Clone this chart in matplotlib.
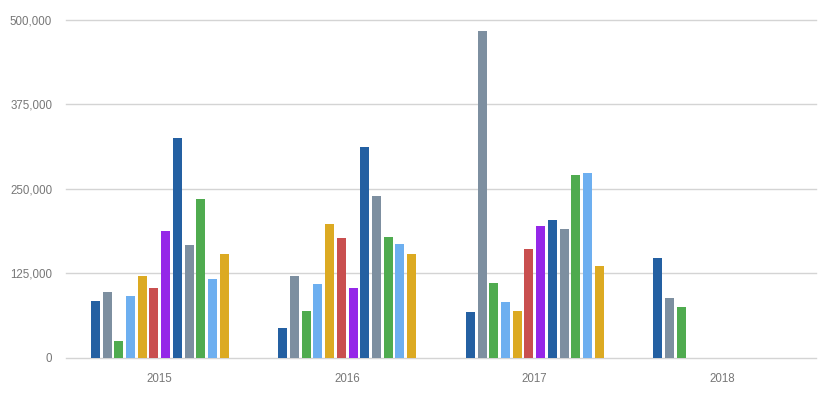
import matplotlib
matplotlib.use("Agg")
import matplotlib.pyplot as plt
from matplotlib.ticker import FuncFormatter

years = ["2015", "2016", "2017", "2018"]
values_2015 = [83900, 97200, 25200, 91300, 120400, 103700, 187600, 325300, 167300, 235000, 117000, 154000]
values_2016 = [44400, 120900, 69100, 109600, 197900, 177200, 102700, 312400, 238900, 178200, 168300, 153000]
values_2017 = [68100, 484200, 111100, 82900, 69100, 160900, 194500, 203400, 190000, 270500, 273000, 135700]
values_2018 = [147600, 88800, 75500]
yticks = [0, 125000, 250000, 375000, 500000]

colors = ["#2460a2", "#7d8fa0", "#4fab4f", "#6daff0", "#dcaa22", "#c94f4f",
          "#9527e8", "#2460a2", "#7d8fa0", "#4fab4f", "#6daff0", "#dcaa22"]

all_vals = [values_2015, values_2016, values_2017, values_2018]

plt.rcParams['font.family'] = ['Liberation Sans', 'DejaVu Sans']
fig = plt.figure(figsize=(8.28, 3.93), dpi=100)
ax = fig.add_axes([66/828, 35.3/393, 750/828, 337.7/393])

slot = 0.0625
width = 0.048
for g, vals in enumerate(all_vals):
    for i, v in enumerate(vals):
        ax.bar(g + (i - 5.5) * slot, v, width=width, color=colors[i], zorder=3)

ax.set_xlim(-0.5, 3.5)
ax.set_ylim(0, 500000)
ax.set_yticks(yticks)
ax.yaxis.set_major_formatter(FuncFormatter(lambda v, p: f"{int(v):,}"))
ax.set_xticks(range(len(years)))
ax.set_xticklabels(years)
ax.tick_params(axis='both', length=0, labelsize=8.3, colors="#777777")
ax.tick_params(axis='y', pad=10)
ax.tick_params(axis='x', pad=11)
ax.grid(axis='y', color="#d4d4d4", linewidth=1, zorder=0)
for line in ax.get_ygridlines():
    line.set_clip_on(False)
for s in ax.spines.values():
    s.set_visible(False)

fig.savefig("out.png", dpi=100)
